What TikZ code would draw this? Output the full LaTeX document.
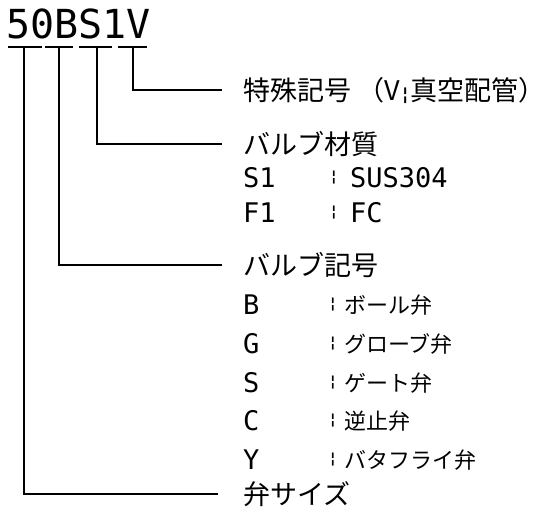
\documentclass[tikz,border=0pt]{standalone}
\usepackage{fontspec}
\newfontfamily\jp{Noto Sans CJK JP}
\newfontfamily\mono{DejaVu Sans Mono}
\tikzset{
  lbl/.style={anchor=west, inner sep=0pt, font=\jp\fontsize{27}{27}\selectfont},
  sml/.style={anchor=west, inner sep=0pt, font=\jp\fontsize{22}{22}\selectfont},
  lat/.style={anchor=west, inner sep=0pt, font=\mono\fontsize{27}{27}\selectfont},
  sep/.style={anchor=center, inner sep=0pt, font=\mono\bfseries\fontsize{15}{15}\selectfont},
  wire/.style={line width=2pt, shorten >=21pt},
  uline/.style={line width=2pt}
}
\begin{document}
\begin{tikzpicture}[x=1pt,y=-1pt]
\useasboundingbox (0,0) rectangle (556,517);
% code
\node[anchor=base west, inner sep=0pt, font=\mono\fontsize{40}{40}\selectfont] (code) at (6,38) {50BS1V};
% underline segments
\coordinate (u1) at (24,47);
\coordinate (u2) at (59,47);
\coordinate (u3) at (97,47);
\coordinate (u4) at (133,47);
\draw[uline] (8,47) -- (42,47) (45,47) -- (73,47) (79,47) -- (112,47) (118,47) -- (147,47);
% labels
\node[lbl] (spec) at (243,90) {特殊記号 （V{\mono\bfseries\fontsize{18}{18}\selectfont ¦}真空配管）};
\node[lbl] (mat) at (243,144) {バルブ材質};
\node[lat] (s1) at (243,178) {S1};
\node[sep] (s1c) at (334,178) {¦};
\node[lat] (s1v) at (350,178) {SUS304};
\node[lat] (f1) at (243,213) {F1};
\node[sep] (f1c) at (334,213) {¦};
\node[lat] (f1v) at (350,213) {FC};
\node[lbl] (vsym) at (243,265) {バルブ記号};
\node[lat] (b) at (243,305) {B};
\node[sep] (bc) at (333,305) {¦};
\node[sml] (bv) at (344,305) {ボール弁};
\node[lat] (g) at (243,344) {G};
\node[sep] (gc) at (333,344) {¦};
\node[sml] (gv) at (344,344) {グローブ弁};
\node[lat] (s) at (243,383) {S};
\node[sep] (sc) at (333,383) {¦};
\node[sml] (sv) at (344,383) {ゲート弁};
\node[lat] (c) at (243,421) {C};
\node[sep] (cc) at (333,421) {¦};
\node[sml] (cv) at (344,421) {逆止弁};
\node[lat] (y) at (243,460) {Y};
\node[sep] (yc) at (333,460) {¦};
\node[sml] (yv) at (344,460) {バタフライ弁};
\node[lbl] (size) at (243,494) {弁サイズ};
% connectors
\draw[wire] (u4) |- (spec.west);
\draw[wire] (u3) |- (mat.west);
\draw[wire] (u2) |- (vsym.west);
\draw[wire, shorten >=25pt] (u1) |- (size.west);
\end{tikzpicture}
\end{document}
